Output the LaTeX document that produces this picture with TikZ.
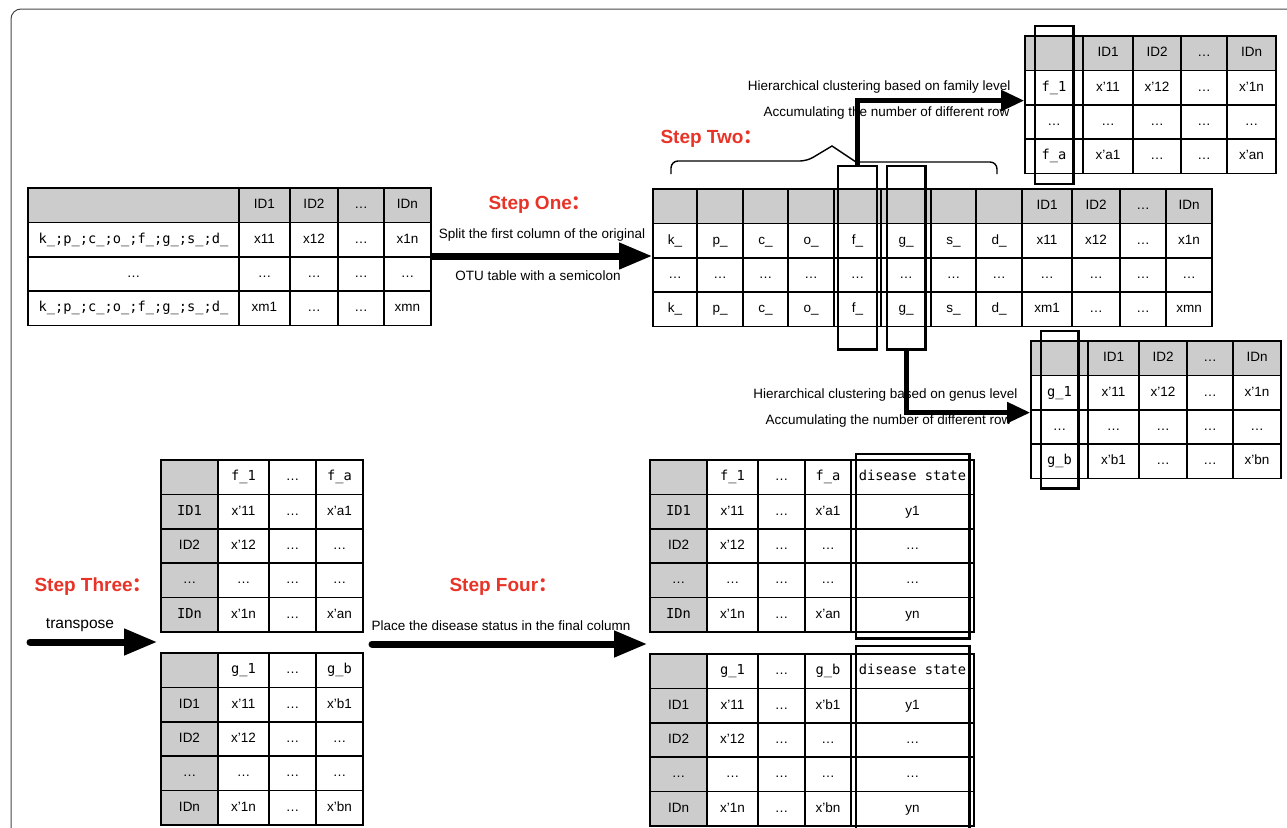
\documentclass[tikz,border=0pt]{standalone}
\usepackage{fontspec}
\setmainfont{Liberation Sans}
\setmonofont{DejaVu Sans Mono}
\newfontfamily\cjk{Noto Sans CJK SC}
\usetikzlibrary{arrows.meta,positioning,matrix,fit}
\definecolor{stepred}{RGB}{232,52,40}
\definecolor{cellgray}{RGB}{204,204,204}
\definecolor{framegray}{RGB}{70,70,70}
\newcommand{\tx}[1]{{\ttfamily\fontsize{13.7}{15}\selectfont #1}}
\newcommand{\fwc}{{\cjk ：}}

\tikzset{
  tab/.style={matrix of nodes, nodes in empty cells, inner sep=0pt,
    column sep=-1.6pt, row sep=-1.6pt, anchor=north west,
    nodes={draw, line width=1.6pt, inner sep=0pt, anchor=center,
      minimum height=34.4pt, minimum width=46pt,
      text height=9.6pt, text depth=2.6pt,
      font=\fontsize{13.5}{15}\selectfont}},
  colw/.style 2 args={column #1/.style={nodes={minimum width=#2}}},
  grayrow/.style={row 1/.style={nodes={fill=cellgray}}},
  graycol/.style={column 1/.style={nodes={fill=cellgray, minimum width=57pt}}},
  hl/.style={draw, line width=2.4pt},
  bigarr/.style={line width=7pt, -{Triangle[length=33pt,width=25pt]}},
  smallarr/.style={line width=5pt, -{Triangle[length=23pt,width=20pt]}},
  steplab/.style={text=stepred, anchor=west, font=\fontsize{19}{21}\selectfont\bfseries},
  lab/.style={font=\fontsize{13.5}{15}\selectfont}
}

\begin{document}
\begin{tikzpicture}[x=1pt, y=-1pt]
\useasboundingbox (0,0) rectangle (1287,827);
\clip (0,0) rectangle (1287,827);

% outer frame
\draw[framegray, line width=1pt, rounded corners=10pt] (11,840) -- (11,9) -- (1300,9);

% original OTU table
\matrix (otu) [tab, grayrow, colw={1}{211pt}, colw={2}{51pt}, colw={3}{48pt}, colw={4}{46pt}, colw={5}{47pt}] at (27,187) {
 & ID1 & ID2 & … & IDn \\
\tx{k\_;p\_;c\_;o\_;f\_;g\_;s\_;d\_} & x11 & x12 & … & x1n \\
… & … & … & … & … \\
\tx{k\_;p\_;c\_;o\_;f\_;g\_;s\_;d\_} & xm1 & … & … & xmn \\
};

% split table
\matrix (split) [tab, grayrow, colw={1}{44pt}, colw={2}{46pt}, colw={3}{45pt}, colw={4}{46pt},
  colw={5}{47pt}, colw={6}{50pt}, colw={7}{45pt}, colw={8}{46pt}, colw={9}{50pt},
  colw={10}{48pt}, colw={11}{46pt}, colw={12}{46pt}] at (652,188) {
 & & & & & & & & ID1 & ID2 & … & IDn \\
k\_ & p\_ & c\_ & o\_ & f\_ & g\_ & s\_ & d\_ & x11 & x12 & … & x1n \\
… & … & … & … & … & … & … & … & … & … & … & … \\
k\_ & p\_ & c\_ & o\_ & f\_ & g\_ & s\_ & d\_ & xm1 & … & … & xmn \\
};

% family level table
\matrix (fam) [tab, grayrow, colw={1}{58pt}, colw={2}{50pt}, colw={3}{48pt}, colw={4}{46pt}, colw={5}{49pt}] at (1024,35) {
 & ID1 & ID2 & … & IDn \\
\tx{f\_1} & x’11 & x’12 & … & x’1n \\
… & … & … & … & … \\
\tx{f\_a} & x’a1 & … & … & x’an \\
};

% genus level table
\matrix (gen) [tab, grayrow, colw={1}{57pt}, colw={2}{51pt}, colw={3}{48pt}, colw={4}{46pt}, colw={5}{48pt}] at (1030,340) {
 & ID1 & ID2 & … & IDn \\
\tx{g\_1} & x’11 & x’12 & … & x’1n \\
… & … & … & … & … \\
\tx{g\_b} & x’b1 & … & … & x’bn \\
};

% transposed tables
\matrix (tf) [tab, graycol, colw={2}{51pt}, colw={3}{47pt}, colw={4}{47pt}] at (160,459) {
 & \tx{f\_1} & … & \tx{f\_a} \\
\tx{ID1} & x’11 & … & x’a1 \\
ID2 & x’12 & … & … \\
… & … & … & … \\
\tx{IDn} & x’1n & … & x’an \\
};
\matrix (tg) [tab, graycol, colw={2}{51pt}, colw={3}{47pt}, colw={4}{47pt}] at (160,652) {
 & \tx{g\_1} & … & \tx{g\_b} \\
ID1 & x’11 & … & x’b1 \\
ID2 & x’12 & … & … \\
… & … & … & … \\
IDn & x’1n & … & x’bn \\
};

% final tables with disease state
\matrix (ff) [tab, graycol, colw={2}{51pt}, colw={3}{47pt}, colw={4}{46pt}, colw={5}{123pt}] at (649,459) {
 & \tx{f\_1} & … & \tx{f\_a} & \tx{disease state} \\
\tx{ID1} & x’11 & … & x’a1 & y1 \\
ID2 & x’12 & … & … & … \\
… & … & … & … & … \\
\tx{IDn} & x’1n & … & x’an & yn \\
};
\matrix (fg) [tab, graycol, colw={2}{51pt}, colw={3}{47pt}, colw={4}{46pt}, colw={5}{123pt}] at (649,653) {
 & \tx{g\_1} & … & \tx{g\_b} & \tx{disease state} \\
ID1 & x’11 & … & x’b1 & y1 \\
ID2 & x’12 & … & … & … \\
… & … & … & … & … \\
IDn & x’1n & … & x’bn & yn \\
};

% highlight boxes
\node[hl, inner xsep=-5pt, inner ysep=22pt, fit=(split-1-5)(split-4-5)] (fbox) {};
\node[hl, inner xsep=-6.5pt, inner ysep=22pt, fit=(split-1-6)(split-4-6)] (gbox) {};
\node[hl, inner xsep=-10.5pt, inner ysep=9.5pt, fit=(fam-1-1)(fam-4-1)] (fambox) {};
\node[hl, inner xsep=-10.5pt, inner ysep=9pt, fit=(gen-1-1)(gen-4-1)] (genbox) {};
\node[hl, inner xsep=-5.5pt, inner ysep=5.5pt, fit=(ff-1-5)(ff-5-5)] (ffbox) {};
\node[hl, inner xsep=-5.5pt, inner ysep=7pt, fit=(fg-1-5)(fg-5-5)] (fgbox) {};

% brace over the split columns
\draw[line width=1.4pt] (671,174) [rounded corners=7pt] -- (671,161) -- (807,161)
  [sharp corners] -- (832,146) -- (856,162) [rounded corners=7pt] -- (997,162) -- (997,174);

% labels
\node[steplab] (one) at (485,205) {Step One\fwc};
\node[lab] (onea) at (542,235) {Split the first column of the original};
\node[lab] (oneb) at (538,276) {OTU table with a semicolon};
\node[steplab] (two) at (657,139) {Step Two\fwc};
\node[lab, anchor=east] (fama) at (1014,87) {Hierarchical clustering based on family level};
\node[lab, anchor=east] (famb) at (1013,113) {Accumulating the number of different row};
\node[lab, anchor=east] (gena) at (1021,395) {Hierarchical clustering based on genus level};
\node[lab, anchor=east] (genb) at (1015,421) {Accumulating the number of different row};
\node[steplab] (three) at (31,587) {Step Three\fwc};
\node[lab, font=\fontsize{15.5}{17}\selectfont] (threea) at (80,625) {transpose};
\node[steplab] (four) at (446,587) {Step Four\fwc};
\node[lab] (foura) at (501,626) {Place the disease status in the final column};

% arrows
\coordinate (s3) at (30,642);
\coordinate (s4) at (372,644);
\draw[bigarr] (otu-3-5.north east) -- (otu-3-5.north east -| split-3-1.west);
\draw[smallarr] (fbox.north) |- ([yshift=-13pt]fam-2-1.west);
\draw[smallarr] (gbox.south) |- ([yshift=-20pt]gen-2-1.west);
\draw[bigarr, line cap=round, shorten >=3pt] (s3) -- (s3 -| tf-1-1.west);
\draw[bigarr, line cap=round, shorten >=2pt] (s4) -- (s4 -| ff-1-1.west);
\end{tikzpicture}
\end{document}
